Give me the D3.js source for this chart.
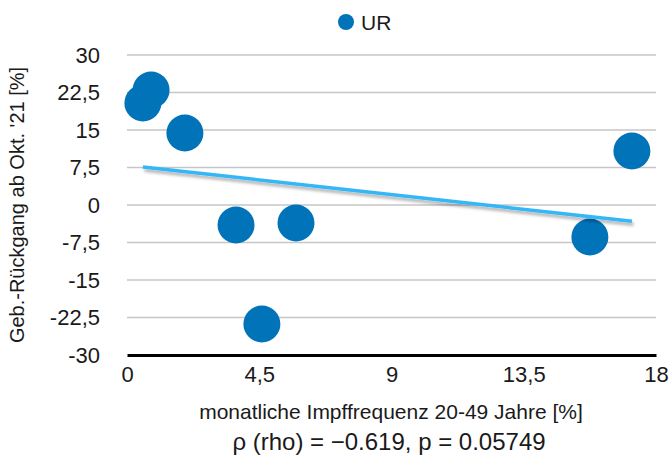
<!DOCTYPE html>
<html>
<head>
<meta charset="utf-8">
<script src="https://cdn.jsdelivr.net/npm/d3@7"></script>
<style>
  body { margin: 0; background: #fff; }
  text { font-family: "Liberation Sans", Arial, sans-serif; fill: #1a1a1a; }
</style>
</head>
<body>
<svg id="chart" width="672" height="459"></svg>
<script>
// values
const impfFrequenz = [0.54, 0.82, 1.97, 3.71, 5.75, 4.59, 15.75, 17.18];
const gebRueckgang = [20.4, 23.0, 14.4, -4.0, -3.6, -23.8, -6.4, 10.8];
const xTicks = [0, 4.5, 9, 13.5, 18];
const yTicks = [30, 22.5, 15, 7.5, 0, -7.5, -15, -22.5, -30];
const seriesName = "UR";

let svg = d3.select("#chart");
let blue = "#0173b9";
let fmt = (d) => String(d).replace(".", ",");

let x = d3.scaleLinear().domain([0, 18]).range([127, 656]);
let y = d3.scaleLinear().domain([-30, 30]).range([355, 55]);

// gridlines
svg.append("g")
  .selectAll("line")
  .data(yTicks.filter((d) => d !== -30))
  .enter()
  .append("line")
  .attr("x1", x(0))
  .attr("x2", x(18))
  .attr("y1", (d) => y(d))
  .attr("y2", (d) => y(d))
  .attr("stroke", "#c6c6c6")
  .attr("stroke-width", 1.5);

// y tick labels
svg.append("g")
  .selectAll("text")
  .data(yTicks)
  .enter()
  .append("text")
  .attr("x", 100)
  .attr("y", (d) => y(d))
  .attr("dy", "0.36em")
  .attr("text-anchor", "end")
  .style("font-size", "22px")
  .text(fmt);

// x axis
let xAxis = d3.axisBottom(x).tickValues(xTicks).tickSize(0).tickPadding(11).tickFormat(fmt);
let gx = svg.append("g").attr("transform", `translate(0,${y(-30)})`).call(xAxis);
gx.select(".domain").attr("stroke", "#000").attr("stroke-width", 3);
gx.selectAll("text").style("font-size", "22px").attr("fill", "#1a1a1a")
  .style("font-family", "Liberation Sans, Arial, sans-serif");

// points
let pts = impfFrequenz.map((v, i) => ({ x: v, y: gebRueckgang[i] }));
svg.append("g")
  .selectAll("circle")
  .data(pts)
  .enter()
  .append("circle")
  .attr("cx", (d) => x(d.x))
  .attr("cy", (d) => y(d.y))
  .attr("r", 18.5)
  .attr("fill", blue);

// linear trend (least squares)
let mx = d3.mean(pts, (d) => d.x);
let my = d3.mean(pts, (d) => d.y);
let slope = d3.sum(pts, (d) => (d.x - mx) * (d.y - my)) / d3.sum(pts, (d) => (d.x - mx) ** 2);
let x0 = d3.min(impfFrequenz), x1 = d3.max(impfFrequenz);
let trend = [[x0, my + slope * (x0 - mx)], [x1, my + slope * (x1 - mx)]];

let defs = svg.append("defs");
let f = defs.append("filter").attr("id", "shadow").attr("x", "-5%").attr("y", "-50%").attr("width", "110%").attr("height", "300%");
f.append("feDropShadow").attr("dx", 1.5).attr("dy", 3).attr("stdDeviation", 1.5)
  .attr("flood-color", "#000").attr("flood-opacity", 0.3);

svg.append("path")
  .datum(trend)
  .attr("d", d3.line().x((d) => x(d[0])).y((d) => y(d[1])))
  .attr("stroke", "#35b6f6")
  .attr("stroke-width", 3.5)
  .attr("fill", "none")
  .attr("filter", "url(#shadow)");

// legend
svg.append("circle").attr("cx", 346).attr("cy", 22).attr("r", 8).attr("fill", blue);
svg.append("text").attr("x", 361).attr("y", 22).attr("dy", "0.36em")
  .style("font-size", "21px").text(seriesName);

// axis titles
svg.append("text")
  .attr("transform", "translate(24,205) rotate(-90)")
  .attr("text-anchor", "middle")
  .style("font-size", "20px")
  .text("Geb.-Rückgang ab Okt. '21 [%]");

svg.append("text")
  .attr("x", 391).attr("y", 419)
  .attr("text-anchor", "middle")
  .style("font-size", "21px")
  .text("monatliche Impffrequenz 20-49 Jahre [%]");

svg.append("text")
  .attr("x", 389).attr("y", 450)
  .attr("text-anchor", "middle")
  .style("font-size", "24px")
  .text("ρ (rho) = −0.619, p = 0.05749");
</script>
</body>
</html>
